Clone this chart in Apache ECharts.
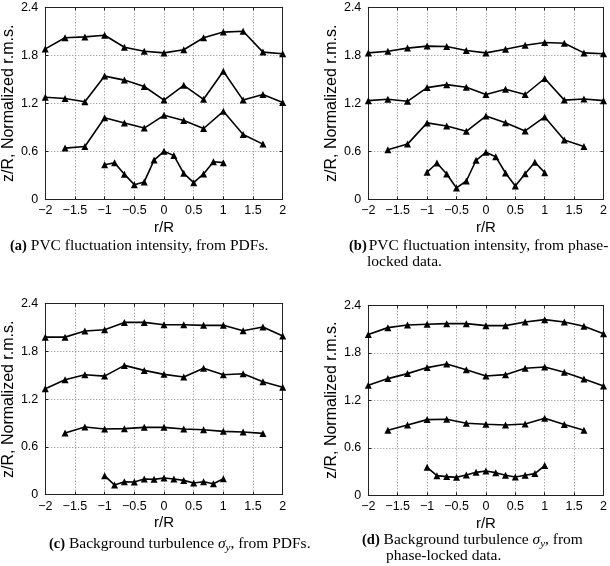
<!DOCTYPE html>
<html><head><meta charset="utf-8">
<script src="https://cdn.jsdelivr.net/npm/echarts@6/dist/echarts.min.js"></script>
<style>html,body{margin:0;padding:0;background:#fff}#c{width:610px;height:566px}</style>
</head><body><div id="c"></div>
<script>
// x positions (r/R)
const xOuter = [-2, -1.667, -1.333, -1, -0.667, -0.333, 0, 0.333, 0.667, 1, 1.333, 1.667, 2];
const xMid = [-1.667, -1.333, -1, -0.667, -0.333, 0, 0.333, 0.667, 1, 1.333, 1.667];
const xInner = [-1, -0.833, -0.667, -0.5, -0.333, -0.167, 0, 0.167, 0.333, 0.5, 0.667, 0.833, 1];

// (a) PVC fluctuation intensity, from PDFs
const a_top = [1.88, 2.02, 2.03, 2.05, 1.90, 1.85, 1.83, 1.87, 2.02, 2.09, 2.10, 1.84, 1.82];
const a_second = [1.275, 1.26, 1.22, 1.54, 1.49, 1.41, 1.24, 1.425, 1.25, 1.60, 1.24, 1.31, 1.21];
const a_third = [0.64, 0.66, 1.02, 0.955, 0.89, 1.05, 0.985, 0.885, 1.10, 0.81, 0.69];
const a_inner = [0.433, 0.458, 0.313, 0.183, 0.217, 0.49, 0.60, 0.546, 0.325, 0.208, 0.317, 0.47, 0.458];

// (b) PVC fluctuation intensity, from phase-locked data
const b_top = [1.83, 1.85, 1.89, 1.915, 1.91, 1.86, 1.83, 1.875, 1.925, 1.96, 1.95, 1.83, 1.82];
const b_second = [1.233, 1.25, 1.225, 1.396, 1.433, 1.40, 1.31, 1.375, 1.31, 1.51, 1.24, 1.254, 1.233];
const b_third = [0.62, 0.69, 0.955, 0.917, 0.85, 1.04, 0.958, 0.855, 1.03, 0.74, 0.66];
const b_inner = [0.338, 0.454, 0.317, 0.142, 0.229, 0.488, 0.588, 0.533, 0.329, 0.167, 0.32, 0.463, 0.333];

// (c) Background turbulence, from PDFs
const c_top = [1.98, 1.98, 2.056, 2.073, 2.165, 2.165, 2.136, 2.136, 2.128, 2.13, 2.06, 2.107, 1.994];
const c_second = [1.332, 1.445, 1.508, 1.49, 1.625, 1.562, 1.512, 1.478, 1.59, 1.508, 1.52, 1.42, 1.35];
const c_third = [0.775, 0.85, 0.825, 0.83, 0.846, 0.846, 0.825, 0.817, 0.796, 0.787, 0.77];
const c_inner = [0.239, 0.121, 0.163, 0.159, 0.197, 0.193, 0.209, 0.197, 0.18, 0.147, 0.163, 0.138, 0.20];

// (d) Background turbulence, from phase-locked data
const d_top = [2.03, 2.118, 2.152, 2.16, 2.168, 2.168, 2.143, 2.143, 2.19, 2.219, 2.19, 2.135, 2.04];
const d_second = [1.39, 1.474, 1.537, 1.613, 1.659, 1.587, 1.507, 1.524, 1.604, 1.621, 1.554, 1.469, 1.381];
const d_third = [0.821, 0.888, 0.956, 0.96, 0.91, 0.897, 0.888, 0.90, 0.973, 0.893, 0.821];
const d_inner = [0.354, 0.248, 0.236, 0.227, 0.257, 0.29, 0.307, 0.286, 0.253, 0.232, 0.253, 0.274, 0.375];

const yTicks = ['0', '0.6', '1.2', '1.8', '2.4'];
const xTicks = ['−2', '−1.5', '−1', '−0.5', '0', '0.5', '1', '1.5', '2'];
const xName = 'r/R';
const yName = 'z/R, Normalized r.m.s.';

const panels = [
  {grid: {left: 43.5, right: 327.3, top: 7.3, bottom: 366.7}, series: [a_top, a_second, a_third, a_inner]},
  {grid: {left: 368.3, right: 3.3, top: 7.3, bottom: 366.7}, series: [b_top, b_second, b_third, b_inner]},
  {grid: {left: 43.3, right: 327.3, top: 303.7, bottom: 71.3}, series: [c_top, c_second, c_third, c_inner]},
  {grid: {left: 368.3, right: 3.3, top: 305.3, bottom: 70.7}, series: [d_top, d_second, d_third, d_inner]}
];
const xSets = [xOuter, xOuter, xMid, xInner];

const sans = 'Liberation Sans, Arial, sans-serif';
const serif = 'Liberation Serif, DejaVu Serif, serif';
const frame = '#222';

const grids = [], xAxes = [], yAxes = [], series = [];
panels.forEach((p, i) => {
  grids.push(p.grid);
  const fmtX = v => xTicks[Math.round((v + 2) / 0.5)];
  const fmtY = v => yTicks[Math.round(v / 0.6)];
  xAxes.push({
    gridIndex: i, type: 'value', min: -2, max: 2, interval: 0.5, position: 'bottom',
    name: xName, nameLocation: 'middle', nameGap: 21,
    nameTextStyle: {fontFamily: sans, fontSize: 15, color: '#000'},
    axisLine: {show: true, onZero: false, lineStyle: {color: frame, width: 1}},
    axisTick: {show: true, inside: true, length: 3, lineStyle: {color: frame}},
    axisLabel: {formatter: fmtX, fontFamily: sans, fontSize: 12.5, color: '#000', margin: 5},
    splitLine: {show: true, lineStyle: {type: [1, 2], color: '#888', width: 1}}
  });
  xAxes.push({
    gridIndex: i, type: 'value', min: -2, max: 2, interval: 0.5, position: 'top',
    axisLine: {show: true, onZero: false, lineStyle: {color: frame, width: 1}},
    axisTick: {show: true, inside: true, length: 3, lineStyle: {color: frame}},
    axisLabel: {show: false}, splitLine: {show: false}
  });
  yAxes.push({
    gridIndex: i, type: 'value', min: 0, max: 2.4, interval: 0.6, position: 'left',
    name: yName, nameLocation: 'middle', nameGap: 24.5,
    nameTextStyle: {fontFamily: sans, fontSize: 16, color: '#000'},
    axisLine: {show: true, onZero: false, lineStyle: {color: frame, width: 1}},
    axisTick: {show: true, inside: true, length: 3, lineStyle: {color: frame}},
    axisLabel: {formatter: fmtY, fontFamily: sans, fontSize: 12.5, color: '#000', margin: 7},
    splitLine: {show: true, lineStyle: {type: [1, 2], color: '#888', width: 1}}
  });
  yAxes.push({
    gridIndex: i, type: 'value', min: 0, max: 2.4, interval: 0.6, position: 'right',
    axisLine: {show: true, onZero: false, lineStyle: {color: frame, width: 1}},
    axisTick: {show: true, inside: true, length: 3, lineStyle: {color: frame}},
    axisLabel: {show: false}, splitLine: {show: false}
  });
  p.series.forEach((vals, k) => {
    const xs = xSets[k];
    series.push({
      type: 'line', xAxisIndex: 2 * i, yAxisIndex: 2 * i,
      data: vals.map((v, j) => [xs[j], v]),
      symbol: 'triangle', symbolSize: 7, showSymbol: true,
      itemStyle: {color: '#000'},
      lineStyle: {color: '#000', width: 1.6},
      animation: false, silent: true
    });
  });
});

const FS = 15.5;
const rich = {
  b: {fontFamily: serif, fontWeight: 'bold', fontSize: 14.5, color: '#000'},
  t: {fontFamily: serif, fontSize: FS, color: '#000'},
  t2: {fontFamily: serif, fontSize: FS, color: '#000', padding: [0, 0, 0, 2]},
  s: {fontFamily: serif, fontStyle: 'italic', fontSize: FS, color: '#000'},
  sub: {fontFamily: serif, fontStyle: 'italic', fontSize: 11, color: '#000', padding: [8, 0, 0, 0]}
};
const captions = [
  {left: 10, top: 238, text: '{b|(a)}{t| PVC fluctuation intensity, from PDFs.}'},
  {left: 349, top: 238, text: '{b|(b)}{t2|PVC fluctuation intensity, from phase-}'},
  {left: 367, top: 254, text: '{t|locked data.}'},
  {left: 49, top: 536, text: '{b|(c)}{t| Background turbulence }{s|σ}{sub|y}{t|, from PDFs.}'},
  {left: 362, top: 532, text: '{b|(d)}{t| Background turbulence }{s|σ}{sub|y}{t|, from}'},
  {left: 386, top: 548, text: '{t|phase-locked data.}'}
];

const chart = echarts.init(document.getElementById('c'), null, {renderer: 'canvas'});
chart.setOption({
  backgroundColor: '#fff',
  animation: false,
  grid: grids, xAxis: xAxes, yAxis: yAxes, series: series,
  title: captions.map(c => ({left: c.left, top: c.top, text: c.text, padding: 0,
    textStyle: {rich: rich, lineHeight: 16, fontFamily: serif, fontSize: FS, fontWeight: 'normal', color: '#000'}}))
});
</script></body></html>
